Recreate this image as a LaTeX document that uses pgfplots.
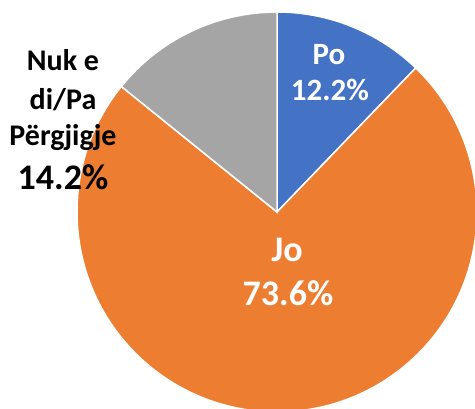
\documentclass[border=0pt]{standalone}
\usepackage{pgfplots}
\usepackage{pgfplotstable}
\pgfplotsset{compat=1.18}
\usepackage{fontspec}
\setmainfont{Carlito}
\definecolor{piblue}{HTML}{4472C4}
\definecolor{piorange}{HTML}{ED7D31}
\definecolor{pigray}{HTML}{A5A5A5}
\pgfplotstableread{
label value
Po 12.2
Jo 73.6
Nuk 14.2
}\piedata
\begin{document}
\begin{tikzpicture}
\pgfplotstablegetelem{0}{value}\of\piedata \let\va\pgfplotsretval
\pgfplotstablegetelem{1}{value}\of\piedata \let\vb\pgfplotsretval
\pgfplotstablegetelem{2}{value}\of\piedata \let\vc\pgfplotsretval
\pgfmathsetmacro\aA{90-3.6*\va}
\pgfmathsetmacro\aB{\aA-3.6*\vb}
\pgfmathsetmacro\aC{\aB-3.6*\vc}
\begin{axis}[width=475pt,height=408pt,scale only axis,hide axis,
  xmin=0,xmax=475,ymin=0,ymax=408,clip=true]
\fill[piblue,draw=white,line width=1.5pt] (axis cs:277,196) -- ([shift={(90:200pt)}]axis cs:277,196) arc[start angle=90,end angle=\aA,radius=200pt] -- cycle;
\fill[piorange,draw=white,line width=1.5pt] (axis cs:277,196) -- ([shift={(\aA:200pt)}]axis cs:277,196) arc[start angle=\aA,end angle=\aB,radius=200pt] -- cycle;
\fill[pigray,draw=white,line width=1.5pt] (axis cs:277,196) -- ([shift={(\aB:200pt)}]axis cs:277,196) arc[start angle=\aB,end angle=\aC,radius=200pt] -- cycle;
\node[white,font=\bfseries\fontsize{31}{37}\selectfont] at (axis cs:329,353) {Po};
\node[white,font=\bfseries\fontsize{31}{37}\selectfont] at (axis cs:330,318) {12.2\%};
\node[white,font=\bfseries\fontsize{36}{43}\selectfont] at (axis cs:287,158) {Jo};
\node[white,font=\bfseries\fontsize{36}{43}\selectfont] at (axis cs:288,115) {73.6\%};
\node[black,font=\bfseries\fontsize{30}{36}\selectfont] at (axis cs:63,348) {Nuk e};
\node[black,font=\bfseries\fontsize{30}{36}\selectfont] at (axis cs:63,308) {di/Pa};
\node[black,font=\bfseries\fontsize{30}{36}\selectfont] at (axis cs:63,270) {Përgjigje};
\node[black,font=\bfseries\fontsize{36}{43}\selectfont] at (axis cs:63,231) {14.2\%};
\end{axis}
\pgfresetboundingbox
\path (0,0) rectangle (475pt,408pt);
\end{tikzpicture}
\end{document}
